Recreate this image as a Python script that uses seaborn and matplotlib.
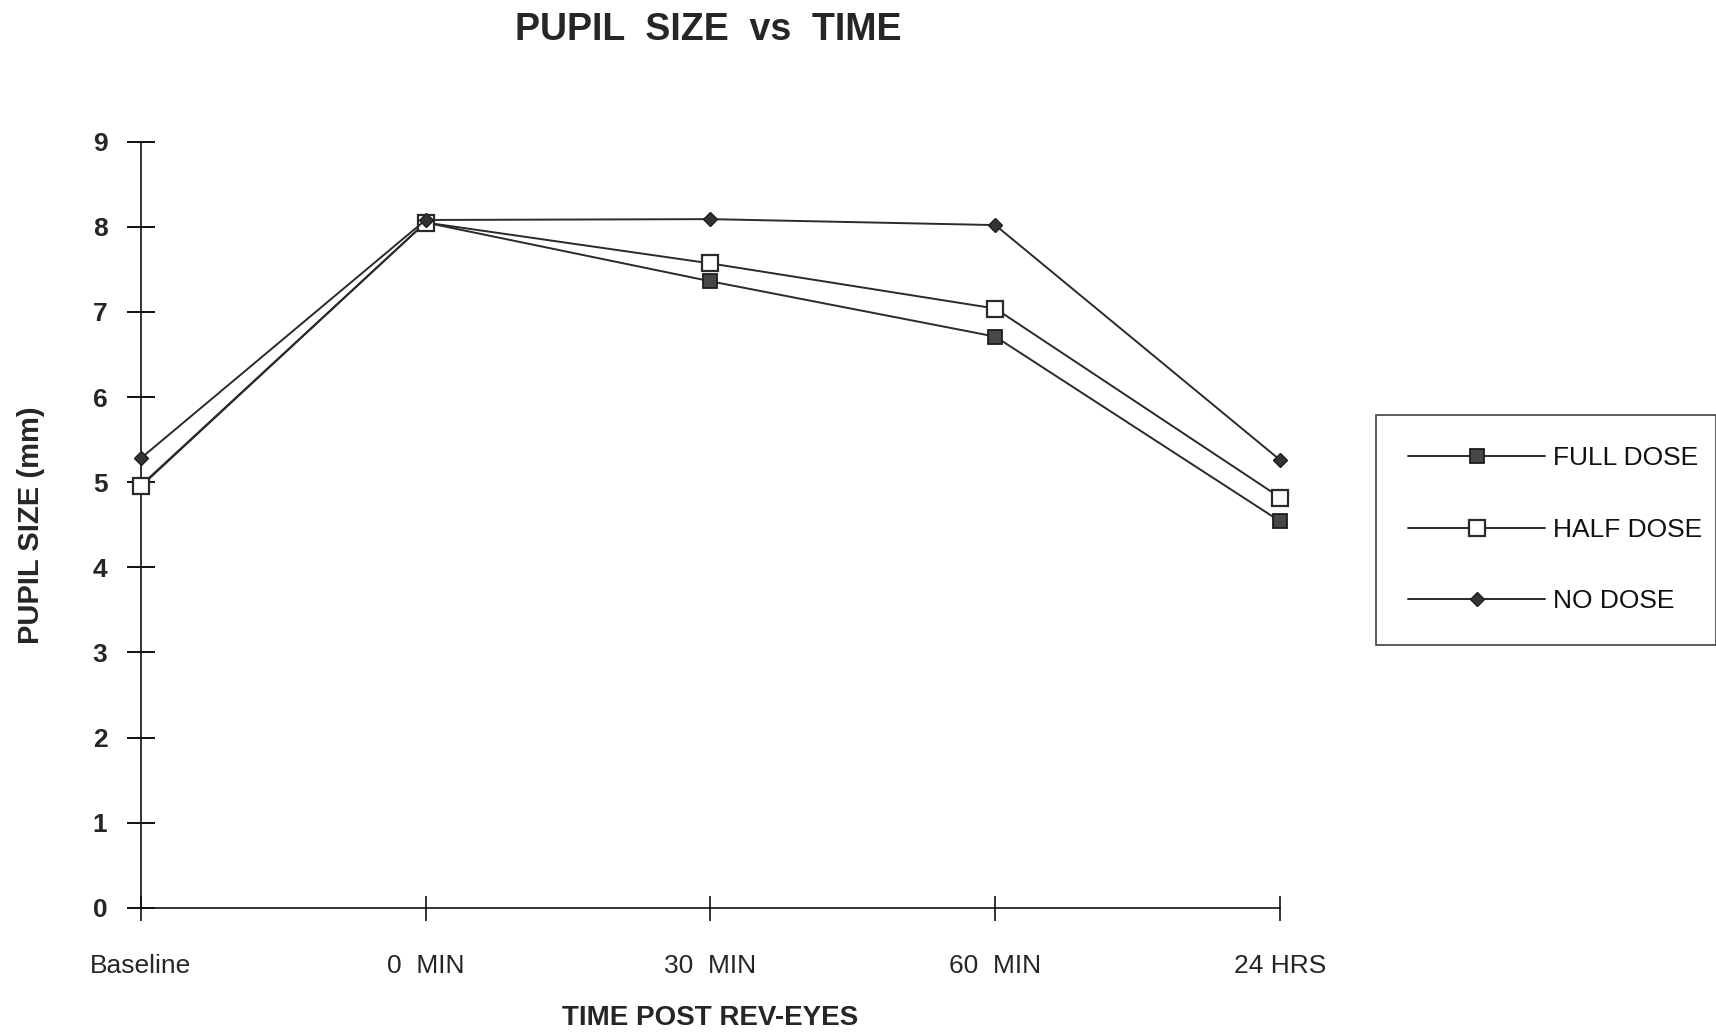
import numpy as np
import pandas as pd
import matplotlib
matplotlib.use("Agg")
import matplotlib.pyplot as plt
import seaborn as sns

# Time points and pupil size (mm) for each dose group
times = ["Baseline", "0  MIN", "30  MIN", "60  MIN", "24 HRS"]
full_dose = [4.95, 8.05, 7.36, 6.71, 4.54]
half_dose = [4.96, 8.05, 7.57, 7.04, 4.82]
no_dose = [5.28, 8.08, 8.09, 8.02, 5.26]

sns.set_theme(style="white")
plt.rcParams["font.family"] = ["Liberation Sans", "DejaVu Sans"]

pos = np.arange(len(times))
df = pd.DataFrame({
    "pos": np.tile(pos, 3),
    "size": full_dose + half_dose + no_dose,
    "group": ["FULL DOSE"] * 5 + ["HALF DOSE"] * 5 + ["NO DOSE"] * 5,
})

fig = plt.figure(figsize=(17.16, 10.34), dpi=100)
ax = fig.add_axes([0.082, 0.122, 0.664, 0.741])

line_color = "#2a2a2a"
styles = {
    "FULL DOSE": dict(marker="s", markersize=10.5, markerfacecolor="#474747",
                      markeredgecolor="#1e1e1e", markeredgewidth=1.3),
    "HALF DOSE": dict(marker="s", markersize=11.5, markerfacecolor="white",
                      markeredgecolor="#2a2a2a", markeredgewidth=1.6),
    "NO DOSE": dict(marker="D", markersize=7, markerfacecolor="#333333",
                    markeredgecolor="#1e1e1e", markeredgewidth=1.0),
}
for name in ["FULL DOSE", "HALF DOSE", "NO DOSE"]:
    sub = df[df["group"] == name]
    sns.lineplot(data=sub, x="pos", y="size", ax=ax, color=line_color,
                 linewidth=1.4, label=name, legend=False, clip_on=False,
                 zorder=3, **styles[name])

ax.set_xlim(0, 4)
ax.set_ylim(0, 9)
ax.set_xticks(pos)
ax.set_xticklabels(times)
ax.set_yticks(range(0, 10))

for side in ["top", "right"]:
    ax.spines[side].set_visible(False)
for side in ["left", "bottom"]:
    ax.spines[side].set_color("#111111")
    ax.spines[side].set_linewidth(1.2)

ax.tick_params(axis="y", left=True, direction="inout", length=20, width=1.4,
               color="#111111", labelsize=19, pad=14)
ax.tick_params(axis="x", bottom=True, direction="inout", length=18, width=1.2,
               color="#111111", labelsize=19, pad=24)
for lbl in ax.get_yticklabels():
    lbl.set_fontweight("bold")

ax.set_xlabel("TIME POST REV-EYES", fontsize=20, fontweight="bold", labelpad=20)
ax.set_ylabel("PUPIL SIZE (mm)", fontsize=21, fontweight="bold", labelpad=34)
fig.suptitle("PUPIL  SIZE  vs  TIME", x=0.413, y=0.988, fontsize=27,
             fontweight="bold")

leg = ax.legend(loc="upper left", bbox_to_anchor=(0.802, 0.383, 0.198, 0.216),
                bbox_transform=fig.transFigure, mode="expand", frameon=True,
                fancybox=False, fontsize=19, handlelength=5.2,
                handletextpad=0.3, labelspacing=1.8, borderpad=1.2,
                borderaxespad=0)
leg.get_frame().set_edgecolor("#111111")
leg.get_frame().set_linewidth(1.2)
for t in leg.get_texts():
    t.set_color("#111111")

fig.savefig("out.png", dpi=100, facecolor="white")
